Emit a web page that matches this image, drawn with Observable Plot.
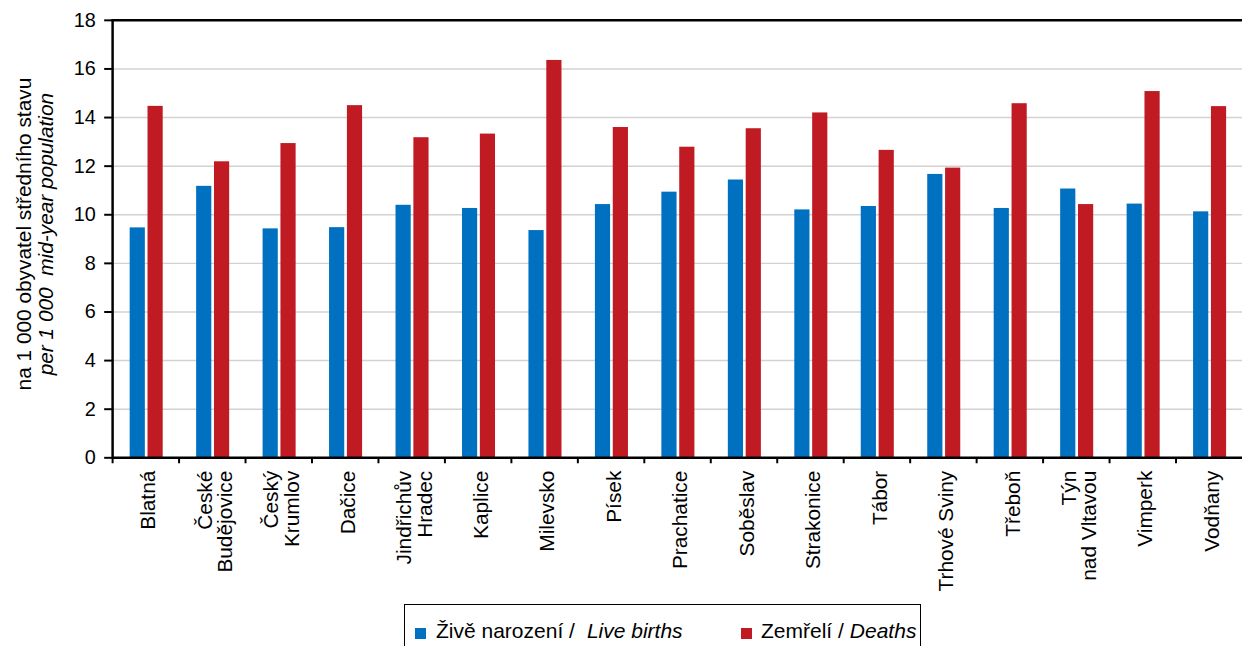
<!DOCTYPE html>
<html>
<head>
<meta charset="utf-8">
<script src="https://cdn.jsdelivr.net/npm/d3@7"></script>
<script src="https://cdn.jsdelivr.net/npm/@observablehq/plot@0.6"></script>
<style>
  body { margin: 0; overflow: hidden; background: #fff; font-family: "Liberation Sans", Arial, sans-serif; }
  #wrap { position: relative; width: 1242px; height: 646px; overflow: hidden; }
  #chart { position: absolute; left: 0; top: 0; }
  #legend { position: absolute; left: 404px; top: 604px; width: 517px; height: 60px; border: 1px solid #000; box-sizing: border-box; background: #fff; font-size: 21px; color: #000; }
  #legend .sw { position: absolute; width: 11px; height: 11px; top: 23px; }
  #legend .lb { position: absolute; top: 14px; white-space: pre; }
  #legend i { font-style: italic; }
</style>
</head>
<body>
<div id="wrap">
  <div id="chart"></div>
  <div id="legend"></div>
</div>
<script>
const categories = ["Blatná", "České\nBudějovice", "Český\nKrumlov", "Dačice", "Jindřichův\nHradec", "Kaplice", "Milevsko", "Písek", "Prachatice", "Soběslav", "Strakonice", "Tábor", "Trhové Sviny", "Třeboň", "Týn\nnad Vltavou", "Vimperk", "Vodňany"];
const births = [9.46, 11.17, 9.42, 9.47, 10.39, 10.26, 9.35, 10.42, 10.93, 11.43, 10.20, 10.34, 11.66, 10.26, 11.06, 10.44, 10.12];
const deaths = [14.46, 12.18, 12.93, 14.49, 13.17, 13.32, 16.35, 13.59, 12.78, 13.54, 14.19, 12.65, 11.92, 14.57, 10.42, 15.07, 14.45];
const yTicks = [0, 2, 4, 6, 8, 10, 12, 14, 16, 18];
const gridValues = [2, 4, 6, 8, 10, 12, 14, 16];
const seriesNames = ["Živě narození /", "Zemřelí /"];
const seriesNamesEn = ["Live births", "Deaths"];
const yLabelCz = "na 1 000 obyvatel středního stavu";
const yLabelEn = "per 1 000\u00a0\u00a0mid-year population";
const colors = ["#0070c0", "#c01b23"];

const data = categories.map((c, i) => ({cat: c, births: births[i], deaths: deaths[i]}));

const chart = Plot.plot({
  width: 1252,
  height: 646,
  marginLeft: 113,
  marginRight: 0,
  marginTop: 20,
  marginBottom: 185,
  style: {fontFamily: "'Liberation Sans', Arial, sans-serif", color: "#000", background: "transparent"},
  x: {type: "band", domain: categories, padding: 0, axis: null},
  y: {domain: [0, 18], axis: null},
  marks: [
    Plot.ruleY(gridValues, {stroke: "#d2d2d2", strokeWidth: 1.5}),
    Plot.barY(data, {x: "cat", y: "births", fill: colors[0], insetLeft: 17.7, insetRight: 34}),
    Plot.barY(data, {x: "cat", y: "deaths", fill: colors[1], insetLeft: 35.7, insetRight: 16}),
    Plot.ruleY([18], {stroke: "#000", strokeWidth: 2.5}),
    Plot.ruleY([0], {stroke: "#000", strokeWidth: 2.5}),
    Plot.frame({anchor: "left", stroke: "#000", strokeWidth: 2.5}),
    Plot.axisY({ticks: yTicks, tickSize: 8, tickPadding: 9, fontSize: 20, stroke: "#000", strokeWidth: 2}),
    Plot.axisX({ticks: categories, tickSize: 6, tickFormat: () => "", dx: -33.5, stroke: "#000", strokeWidth: 2}),
    Plot.axisX({ticks: categories, tickSize: 0, tickPadding: 13, tickRotate: -90, fontSize: 21, dx: 3}),
    Plot.text([yLabelCz], {frameAnchor: "left", textAnchor: "middle", rotate: -90, dx: -89, dy: -5, fontSize: 21, text: d => d}),
    Plot.text([yLabelEn], {frameAnchor: "left", textAnchor: "middle", rotate: -90, dx: -67, dy: -5, fontSize: 21, fontStyle: "italic", text: d => d})
  ]
});
document.getElementById("chart").appendChild(chart);

const legend = document.getElementById("legend");
const swLeft = [10, 336];
const lbLeft = [31, 356];
const gaps = [12, 6];
seriesNames.forEach((name, i) => {
  const sw = document.createElement("div");
  sw.className = "sw";
  sw.style.left = swLeft[i] + "px";
  sw.style.background = colors[i];
  legend.appendChild(sw);
  const lb = document.createElement("div");
  lb.className = "lb";
  lb.style.left = lbLeft[i] + "px";
  lb.textContent = name;
  const it = document.createElement("i");
  it.style.marginLeft = gaps[i] + "px";
  it.textContent = seriesNamesEn[i];
  lb.appendChild(it);
  legend.appendChild(lb);
});
</script>
</body>
</html>
